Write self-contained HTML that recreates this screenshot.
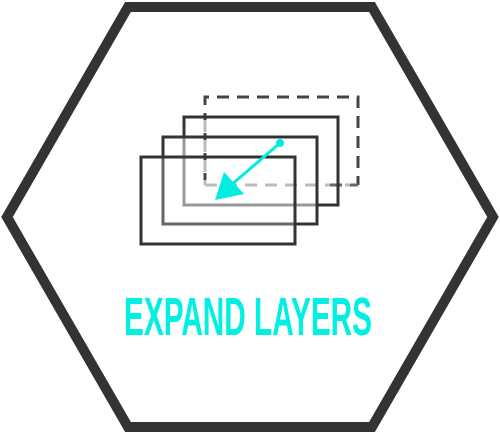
<!DOCTYPE html>
<html><head><meta charset="utf-8"><style>html,body{margin:0;padding:0;background:#fff;width:500px;height:434px;overflow:hidden}</style></head>
<body>
<svg width="500" height="434" viewBox="0 0 500 434" xmlns="http://www.w3.org/2000/svg">
<defs>
<linearGradient id="g2" x1="0" y1="0" x2="1" y2="1"><stop offset="0" stop-color="#aaa"/><stop offset="0.5" stop-color="#999"/><stop offset="1" stop-color="#333"/></linearGradient>
<linearGradient id="g3" x1="0" y1="0" x2="1" y2="1"><stop offset="0" stop-color="#555"/><stop offset="0.5" stop-color="#777"/><stop offset="1" stop-color="#333"/></linearGradient>
</defs>
<polygon points="128,7 372,7 493,217 372,427 128,427 7,217" fill="none" stroke="#333" stroke-width="10" stroke-linejoin="miter"/>
<g fill="none" stroke-width="3" stroke-dasharray="12,8">
<path d="M205,185 L205,97 L358,97 L358,185" stroke="#444"/>
<path d="M205,185 L358,185" stroke="#bbb"/>
<path d="M205,120 L205,185" stroke="#bbb"/>
<path d="M330,185 L358,185" stroke="#666"/>
</g>
<g fill="none" stroke-width="3">
<path d="M184,138 L184,117 L338,117 L338,205 L318,205" stroke="#333"/>
<path d="M184,138 L184,205 L318,205" stroke="#999"/>
</g>
<g fill="none" stroke-width="3">
<path d="M163,157 L163,137 L317,137 L317,224 L296,224" stroke="#333"/>
<path d="M163,157 L163,224 L296,224" stroke="#666"/>
</g>
<rect x="141" y="157" width="154" height="87" fill="none" stroke="#333" stroke-width="3"/>
<g fill="#00eee2" stroke="#00eee2">
<circle cx="280" cy="143" r="4" stroke="none"/>
<line x1="280" y1="143" x2="230" y2="186" stroke-width="3"/>
<polygon points="215,200 224,172 244,194" stroke="none"/>
</g>
<text x="248" y="335" text-anchor="middle" textLength="248" lengthAdjust="spacingAndGlyphs" font-family="'Liberation Sans Narrow','Liberation Sans',sans-serif" font-weight="bold" font-size="54" fill="#00f0e2">EXPAND LAYERS</text>
</svg>
</body></html>
